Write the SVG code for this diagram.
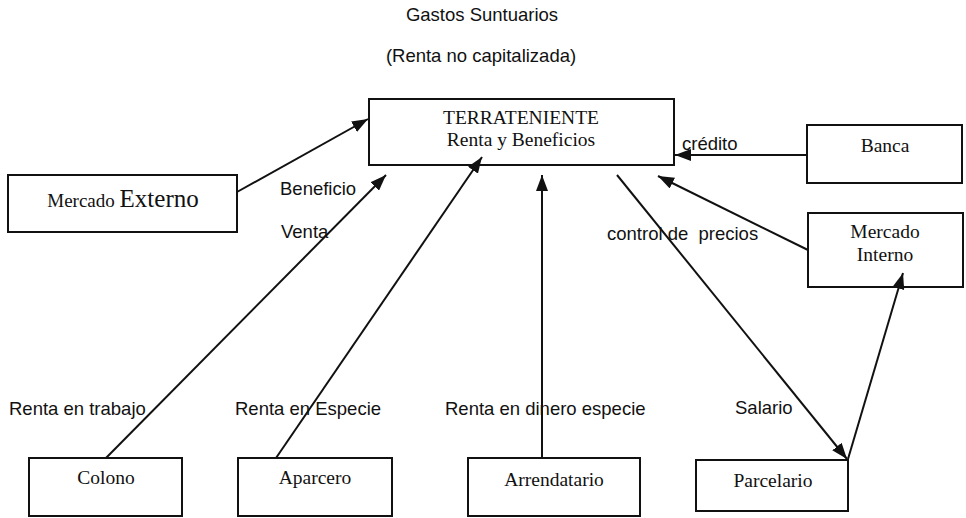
<svg xmlns="http://www.w3.org/2000/svg" width="966" height="518" viewBox="0 0 966 518">
<defs>
<style>
.box{fill:#fff;stroke:#111;stroke-width:2}
.t{font-family:"Liberation Serif","Times New Roman",serif;fill:#111;text-anchor:middle;font-size:19.5px}
.l{font-family:"Liberation Sans",Arial,sans-serif;fill:#111;font-size:18.5px}
.c{stroke:#111;stroke-width:2;fill:none}
.a{marker-end:url(#ah)}
</style>
<marker id="ah" markerUnits="userSpaceOnUse" markerWidth="16" markerHeight="12" refX="16" refY="6" orient="auto">
<path d="M0,0 L16,6 L0,12 z" fill="#111"/>
</marker>
</defs>
<rect width="966" height="518" fill="#fff"/>
<g id="titles">
<text class="l" x="482" y="21" text-anchor="middle">Gastos Suntuarios</text>
<text class="l" x="481" y="62" text-anchor="middle">(Renta no capitalizada)</text>
</g>
<g id="labels">
<text class="l" x="682" y="150">crédito</text>
<text class="l" x="280" y="195">Beneficio</text>
<text class="l" x="281" y="238">Venta</text>
<text class="l" x="607" y="240" xml:space="preserve">control de  precios</text>
<text class="l" x="9" y="415">Renta en trabajo</text>
<text class="l" x="235" y="415">Renta en Especie</text>
<text class="l" x="445" y="415">Renta en dinero especie</text>
<text class="l" x="735" y="414">Salario</text>
</g>
<g id="terrateniente">
<rect class="box" x="369" y="99" width="305" height="66"/>
<text class="t" x="521" y="124">TERRATENIENTE</text>
<text class="t" x="521" y="146">Renta y Beneficios</text>
</g>
<g id="mercado-externo">
<rect class="box" x="8" y="175" width="229" height="57"/>
<text class="t" x="123" y="207"><tspan font-size="19">Mercado </tspan><tspan font-size="25">Externo</tspan></text>
</g>
<g id="banca">
<rect class="box" x="807" y="125" width="155" height="58"/>
<text class="t" x="885" y="152">Banca</text>
</g>
<g id="mercado-interno">
<rect class="box" x="808" y="213" width="155" height="74"/>
<text class="t" x="885" y="238">Mercado</text>
<text class="t" x="885" y="261">Interno</text>
</g>
<g id="colono">
<rect class="box" x="29" y="458" width="153" height="58"/>
<text class="t" x="106" y="484">Colono</text>
</g>
<g id="aparcero">
<rect class="box" x="238" y="458" width="154" height="58"/>
<text class="t" x="315" y="484">Aparcero</text>
</g>
<g id="arrendatario">
<rect class="box" x="468" y="458" width="172" height="58"/>
<text class="t" x="554" y="486">Arrendatario</text>
</g>
<g id="parcelario">
<rect class="box" x="696" y="460" width="152" height="51"/>
<text class="t" x="773" y="487">Parcelario</text>
</g>
<g id="connectors">
<line class="c a" x1="237" y1="192" x2="368" y2="119"/>
<line class="c a" x1="106" y1="458" x2="386" y2="175"/>
<line class="c a" x1="276" y1="458" x2="482" y2="157"/>
<line class="c a" x1="542" y1="458" x2="542" y2="175"/>
<line class="c a" x1="807" y1="155" x2="675" y2="155"/>
<line class="c a" x1="808" y1="250" x2="658" y2="176"/>
<line class="c a" x1="617" y1="175" x2="847" y2="459"/>
<line class="c a" x1="848" y1="459" x2="903" y2="273"/>
</g>
</svg>
